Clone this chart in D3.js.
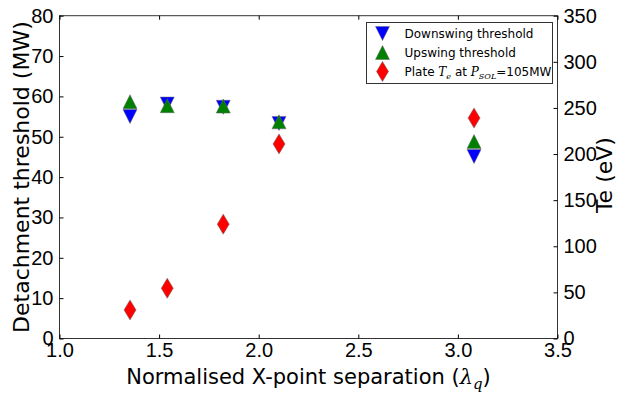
<!DOCTYPE html>
<html>
<head>
<meta charset="utf-8">
<script src="https://cdn.jsdelivr.net/npm/d3@7"></script>
<style>
  body { margin: 0; background: #fff; }
  svg { display: block; font-family: 'DejaVu Sans', sans-serif; }
</style>
</head>
<body>
<div class="canvas"></div>
<script>
const separation = [1.354, 1.541, 1.822, 2.102, 3.081];
const downswing = [55.0, 58.1, 57.3, 53.3, 45.1];
const upswing = [58.7, 57.7, 57.6, 53.7, 48.8];
const plateTe = [31, 54.5, 124, 211, 239];

const xTicks = [1.0, 1.5, 2.0, 2.5, 3.0, 3.5];
const leftTicks = [0, 10, 20, 30, 40, 50, 60, 70, 80];
const rightTicks = [0, 50, 100, 150, 200, 250, 300, 350];

const width = 619;
const height = 394;
const margin = { top: 15.7, right: 61.5, bottom: 55.5, left: 59.5 };

const svg = d3
  .select('.canvas')
  .append('svg')
  .attr('width', width)
  .attr('height', height);

const x = d3.scaleLinear().domain([1.0, 3.5]).range([margin.left, width - margin.right]);
const yLeft = d3.scaleLinear().domain([0, 80]).range([height - margin.bottom, margin.top]);
const yRight = d3.scaleLinear().domain([0, 350]).range([height - margin.bottom, margin.top]);

const x0 = margin.left;
const x1 = width - margin.right;
const y0 = height - margin.bottom;
const y1 = margin.top;

// frame
svg
  .append('rect')
  .attr('x', x0)
  .attr('y', y1)
  .attr('width', x1 - x0)
  .attr('height', y0 - y1)
  .attr('fill', 'none')
  .attr('stroke', '#333')
  .attr('stroke-width', 1);

// axes with inward ticks
const tickFont = g => g.selectAll('text').attr('font-size', 20).attr('fill', '#000');
const cleanAxis = g => {
  g.select('.domain').remove();
  g.selectAll('line').attr('stroke', '#000');
};

svg
  .append('g')
  .attr('transform', `translate(0,${y0})`)
  .call(d3.axisBottom(x).tickValues(xTicks).tickFormat(d3.format('.1f')).tickSizeInner(-4).tickPadding(6))
  .call(cleanAxis)
  .call(tickFont)
  .call(g => g.selectAll('text').attr('dy', '0.62em'));

svg
  .append('g')
  .attr('transform', `translate(0,${y1})`)
  .call(d3.axisTop(x).tickValues(xTicks).tickFormat('').tickSizeInner(-4))
  .call(cleanAxis);

svg
  .append('g')
  .attr('transform', `translate(${x0},0)`)
  .call(d3.axisLeft(yLeft).tickValues(leftTicks).tickSizeInner(-4).tickPadding(6))
  .call(cleanAxis)
  .call(tickFont);

svg
  .append('g')
  .attr('transform', `translate(${x1},0)`)
  .call(d3.axisRight(yRight).tickValues(rightTicks).tickSizeInner(-4).tickPadding(6))
  .call(cleanAxis)
  .call(tickFont);

// axis labels
svg
  .append('text')
  .attr('x', (x0 + x1) / 2)
  .attr('y', 384)
  .attr('text-anchor', 'middle')
  .attr('font-size', 21)
  .text('Normalised X-point separation (')
  .append('tspan')
  .attr('font-family', 'DejaVu Serif, serif')
  .attr('font-style', 'italic')
  .text('λ')
  .append('tspan')
  .attr('font-size', 15)
  .attr('dy', 5)
  .text('q')
  .append('tspan')
  .attr('font-family', 'DejaVu Sans, sans-serif')
  .attr('font-style', 'normal')
  .attr('font-size', 21)
  .attr('dy', -5)
  .text(')');

svg
  .append('text')
  .attr('transform', `translate(29,${(y0 + y1) / 2}) rotate(-90)`)
  .attr('text-anchor', 'middle')
  .attr('font-size', 22)
  .text('Detachment threshold (MW)');

svg
  .append('text')
  .attr('transform', `translate(612,${(y0 + y1) / 2 - 2}) rotate(-90)`)
  .attr('text-anchor', 'middle')
  .attr('font-size', 22)
  .text('Te (eV)');

// markers
const triDown = s => `M${-s / 2},${-s / 2}L${s / 2},${-s / 2}L0,${s / 2}Z`;
const triUp = s => `M${-s / 2},${s / 2}L${s / 2},${s / 2}L0,${-s / 2}Z`;
const diamond = (w, h) => `M0,${-h / 2}L${w / 2},0L0,${h / 2}L${-w / 2},0Z`;

const series = [
  { values: downswing, scale: yLeft, path: triDown(14), fill: '#0000ff' },
  { values: upswing, scale: yLeft, path: triUp(14), fill: '#008000' },
  { values: plateTe, scale: yRight, path: diamond(12, 20), fill: '#ff0000' },
];

series.forEach(s => {
  svg
    .append('g')
    .selectAll('path')
    .data(separation.map((d, i) => [d, s.values[i]]))
    .join('path')
    .attr('d', s.path)
    .attr('transform', d => `translate(${x(d[0])},${s.scale(d[1])})`)
    .attr('fill', s.fill)
    .attr('stroke', '#666')
    .attr('stroke-width', 0.5);
});

// legend
const legend = svg.append('g').attr('transform', 'translate(366.5,22.5)');
legend
  .append('rect')
  .attr('width', 186)
  .attr('height', 61)
  .attr('fill', '#fff')
  .attr('stroke', '#333')
  .attr('stroke-width', 1);

const legendItems = [
  { label: 'Downswing threshold', path: triDown(14), fill: '#0000ff' },
  { label: 'Upswing threshold', path: triUp(14), fill: '#008000' },
  { label: null, path: diamond(12, 20), fill: '#ff0000' },
];

legendItems.forEach((item, i) => {
  const row = legend.append('g').attr('transform', `translate(0,${11 + i * 19})`);
  row
    .append('path')
    .attr('d', item.path)
    .attr('transform', 'translate(16,0)')
    .attr('fill', item.fill)
    .attr('stroke', '#666')
    .attr('stroke-width', 0.5);
  const t = row.append('text').attr('x', 38).attr('y', 4).attr('font-size', 12);
  if (item.label) {
    t.text(item.label);
  } else {
    t.append('tspan').text('Plate ');
    t.append('tspan').attr('font-family', 'DejaVu Serif, serif').attr('font-style', 'italic').text('T');
    t.append('tspan').attr('font-family', 'DejaVu Serif, serif').attr('font-style', 'italic').attr('font-size', 8).attr('dy', 3).text('e');
    t.append('tspan').attr('dy', -3).text(' at ');
    t.append('tspan').attr('font-family', 'DejaVu Serif, serif').attr('font-style', 'italic').text('P');
    t.append('tspan').attr('font-family', 'DejaVu Serif, serif').attr('font-style', 'italic').attr('font-size', 8).attr('dy', 3).text('SOL');
    t.append('tspan').attr('dy', -3).text('=105MW');
  }
});
</script>
</body>
</html>
